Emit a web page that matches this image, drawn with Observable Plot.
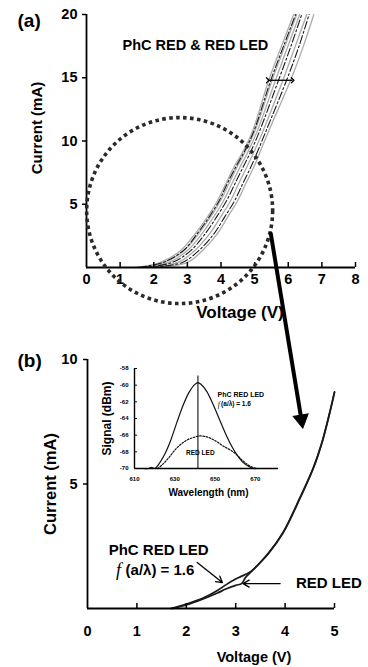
<!DOCTYPE html>
<html>
<head>
<meta charset="utf-8">
<script src="https://cdn.jsdelivr.net/npm/d3@7"></script>
<script src="https://cdn.jsdelivr.net/npm/@observablehq/plot@0.6"></script>
<style>
html,body{margin:0;padding:0;background:#fff;}
#wrap{position:relative;width:368px;height:667px;overflow:hidden;background:#fff;}
#wrap svg{position:absolute;background:transparent;}
</style>
</head>
<body>
<div id="wrap"></div>
<script>
const FONT = '"Liberation Sans", Arial, Helvetica, sans-serif';
const SERIF = '"Liberation Serif", "DejaVu Serif", serif';

// ---------- Panel (a): I-V family ----------
const aXTicks = [0, 1, 2, 3, 4, 5, 6, 7, 8];
const aYTicks = [5, 10, 15, 20];
const aLevels = [0, 0.4, 1.34, 2.7, 4.0, 5.3, 6.6, 7.9, 9.25, 10.8, 14.8, 17.5, 20]; // mA
const aGray1 = [1.45, 2.20, 2.80, 3.24, 3.60, 3.90, 4.14, 4.38, 4.67, 4.94, 5.42, 5.80, 6.16]; // V
const aGray2 = [2.00, 3.00, 3.45, 3.90, 4.20, 4.50, 4.73, 4.97, 5.18, 5.42, 6.07, 6.45, 6.76];
const aGray3 = [1.60, 2.45, 3.00, 3.44, 3.78, 4.08, 4.32, 4.56, 4.82, 5.08, 5.62, 5.99, 6.34];
const aGray4 = [1.80, 2.72, 3.22, 3.67, 3.99, 4.29, 4.52, 4.76, 5.00, 5.25, 5.84, 6.21, 6.55];
const aGray5 = [1.52, 2.32, 2.90, 3.34, 3.69, 3.99, 4.23, 4.47, 4.74, 5.01, 5.52, 5.90, 6.25];
const aBlack1 = [1.70, 2.55, 3.10, 3.54, 3.87, 4.17, 4.41, 4.65, 4.90, 5.15, 5.71, 6.08, 6.40];
const aBlack2 = [1.90, 2.85, 3.34, 3.80, 4.11, 4.41, 4.64, 4.88, 5.10, 5.34, 5.95, 6.32, 6.62];
const aBlack3 = [1.55, 2.28, 2.88, 3.30, 3.65, 3.95, 4.18, 4.43, 4.71, 4.98, 5.48, 5.86, 6.22];
const aCircleCenter = [{v: 2.77, i: 4.5}];
const aSpread = [{v1: 5.39, v2: 6.13, i: 14.8}];
const zoomArrow = [{v1: 5.48, i1: 2.69, v2: 6.43, i2: -12.65}];
const aTitle = "(a)", aXLabel = "Voltage (V)", aYLabel = "Current (mA)", aNote = "PhC RED & RED LED";

const aSeries = [
  {id: "g1", tone: "gray", v: aGray1}, {id: "g2", tone: "gray", v: aGray2},
  {id: "g3", tone: "gray", v: aGray3}, {id: "g4", tone: "gray", v: aGray4},
  {id: "g5", tone: "gray", v: aGray5},
  {id: "b1", tone: "black", v: aBlack1}, {id: "b2", tone: "black", v: aBlack2},
  {id: "b3", tone: "black", v: aBlack3}
];
const aRows = aSeries.flatMap(s => aLevels.map((I, k) => ({id: s.id, tone: s.tone, v: s.v[k], i: I})));

// ---------- Panel (b): zoomed I-V ----------
const bXTicks = [0, 1, 2, 3, 4, 5];
const bYTicks = [5, 10];
const bPhC = [[1.68,0],[2.0,0.18],[2.34,0.42],[2.63,0.72],[2.8,0.95],[3.0,1.18],[3.1,1.28],[3.3,1.48],[3.67,2.25],[3.97,3.1],[4.3,4.45],[4.57,5.65],[4.75,6.7],[4.9,7.85],[5.0,8.7]];
const bRed = [[1.72,0],[2.0,0.14],[2.34,0.38],[2.63,0.62],[2.8,0.78],[3.0,0.93],[3.12,1.0],[3.2,1.25],[3.3,1.45],[3.67,2.22],[3.97,3.07],[4.3,4.42],[4.57,5.62],[4.75,6.68],[4.9,7.82],[5.0,8.68]];
const bArrows = [{v1: 2.22, i1: 1.85, v2: 2.73, i2: 1.04}, {v1: 3.9, i1: 1.0, v2: 3.15, i2: 1.0}];
const bNoteCentered = [{text: "PhC RED LED", v: 1.44, i: 2.33}];
const bNoteStart = [{text: "(a/λ) = 1.6", v: 0.77, i: 1.53}, {text: "RED LED", v: 4.22, i: 1.0}];
const bItalic = [{text: "f", v: 0.63, i: 1.53}];
const bTitle = "(b)", bXLabel = "Voltage (V)", bYLabel = "Current (mA)";

// ---------- Inset: spectra ----------
const insXTicks = [610, 630, 650, 670];
const insYTicks = [-70, -68, -66, -64, -62, -60, -58];
const insPhC = [[614,-70],[617,-70],[618.5,-69.85],[620,-70],[622,-69.5],[625,-68.3],[628,-66.6],[631,-64.5],[634,-62.5],[637,-60.9],[640,-59.9],[641.5,-59.7],[643,-59.9],[646,-60.8],[649,-62.3],[652,-64.0],[655,-65.7],[658,-67.2],[661,-68.4],[664,-69.3],[667,-69.8],[669,-70],[671,-70]];
const insRed = [[621.5,-70],[624,-69.5],[627,-68.7],[630,-67.8],[633,-67.1],[636,-66.6],[639,-66.3],[642,-66.1],[645,-66.15],[648,-66.4],[651,-66.8],[654,-67.3],[657,-67.7],[660,-68.2],[663,-68.9],[666,-69.5],[669,-69.9],[671.5,-70]];
const insPeak = [{w: 641.5, s1: -70, s2: -58.9}];
const insNoteStart = [{text: "PhC RED LED", w: 651.2, s: -61.1, size: 7}, {text: "(a/λ) = 1.6", w: 653.0, s: -62.3, size: 6.5}];
const insNoteCentered = [{text: "RED LED", w: 642.7, s: -68.1, size: 6.5}];
const insItalic = [{text: "f", w: 651.9, s: -62.3}];
const insXLabel = "Wavelength (nm)", insYLabel = "Signal (dBm)";

const wrap = document.getElementById("wrap");
function place(svg, left, top) {
  svg.style.position = "absolute";
  svg.style.left = left + "px";
  svg.style.top = top + "px";
  wrap.appendChild(svg);
}
const baseStyle = {background: "transparent", fontFamily: FONT, fontWeight: "bold", color: "#000", overflow: "visible"};

// Panel (a)
const svgA = Plot.plot({
  width: 368, height: 440,
  marginLeft: 86, marginRight: 13, marginTop: 14, marginBottom: 173,
  style: baseStyle,
  x: {domain: [0, 8], label: null},
  y: {domain: [0, 20], label: null},
  marks: [
    Plot.line(aRows.filter(d => d.tone === "gray"), {x: "v", y: "i", z: "id", stroke: "#ababab", strokeWidth: 1.3, curve: "catmull-rom"}),
    Plot.line(aRows.filter(d => d.tone === "black"), {x: "v", y: "i", z: "id", stroke: "#1a1a1a", strokeWidth: 1.1, strokeDasharray: "8,2.5,2,2.5", curve: "catmull-rom"}),
    Plot.ruleY([0], {strokeWidth: 1.8}),
    Plot.ruleX([0], {strokeWidth: 1.8}),
    Plot.ruleX(aXTicks.slice(1), {x: d => d, y1: 0, y2: 0, insetTop: -5, strokeWidth: 1.5}),
    Plot.ruleY(aYTicks, {y: d => d, x1: 0, x2: 0, insetLeft: -4, strokeWidth: 1.5}),
    Plot.axisX({ticks: aXTicks, tickSize: 0, tickPadding: 6, fontSize: 14.5, tickFormat: d => String(d), label: null}),
    Plot.axisY({ticks: aYTicks, tickSize: 0, tickPadding: 9, fontSize: 14.5, tickFormat: d => String(d), label: null}),
    Plot.dot(aCircleCenter, {x: "v", y: "i", r: 93, stroke: "#2a2a2a", strokeWidth: 3.6, strokeDasharray: "3.6,3.4", fill: "none"}),
    Plot.link(aSpread, {x1: "v1", x2: "v2", y1: "i", y2: "i", stroke: "#000", strokeWidth: 1.3, markerStart: "arrow", markerEnd: "arrow"}),
    Plot.arrow(zoomArrow, {x1: "v1", y1: "i1", x2: "v2", y2: "i2", stroke: "#000", strokeWidth: 4, headLength: 0, insetEnd: 9}),
    Plot.dot(zoomArrow, {x: "v2", y: "i2", symbol: "triangle", r: 5.6, fill: "#000", stroke: "#000", strokeWidth: 1, rotate: 170.6, dx: -1.3, dy: -8}),
    Plot.text([aTitle], {text: d => d, frameAnchor: "top-left", dx: -69, dy: 6, textAnchor: "start", lineAnchor: "middle", fontSize: 19, fontWeight: "bold"}),
    Plot.text([aYLabel], {text: d => d, frameAnchor: "left", dx: -49, dy: -13, rotate: -90, textAnchor: "middle", lineAnchor: "middle", fontSize: 15, fontWeight: "bold"}),
    Plot.text([aXLabel], {text: d => d, frameAnchor: "bottom", dx: 19, dy: 45, textAnchor: "middle", lineAnchor: "middle", fontSize: 17, fontWeight: "bold"}),
    Plot.text([aNote], {text: d => d, frameAnchor: "top-left", dx: 36, dy: 31, textAnchor: "start", lineAnchor: "middle", fontSize: 14.5, fontWeight: "bold"})
  ]
});

// Panel (b)
const svgB = Plot.plot({
  width: 368, height: 337,
  marginLeft: 87, marginRight: 34, marginTop: 29, marginBottom: 59,
  style: baseStyle,
  x: {domain: [0, 5], label: null},
  y: {domain: [0, 10], label: null},
  marks: [
    Plot.line(bPhC, {x: d => d[0], y: d => d[1], stroke: "#1a1a1a", strokeWidth: 1.7, curve: "catmull-rom"}),
    Plot.line(bRed, {x: d => d[0], y: d => d[1], stroke: "#1a1a1a", strokeWidth: 1.7, curve: "catmull-rom"}),
    Plot.ruleY([0], {strokeWidth: 1.8}),
    Plot.ruleX([0], {strokeWidth: 1.8}),
    Plot.ruleX(bXTicks.slice(1), {x: d => d, y1: 0, y2: 0, insetTop: -5, strokeWidth: 1.5}),
    Plot.ruleY(bYTicks, {y: d => d, x1: 0, x2: 0, insetLeft: -4, strokeWidth: 1.5}),
    Plot.axisX({ticks: bXTicks, tickSize: 0, tickPadding: 17, fontSize: 14.5, tickFormat: d => String(d), label: null}),
    Plot.axisY({ticks: bYTicks, tickSize: 0, tickPadding: 10, fontSize: 14.5, tickFormat: d => String(d), label: null}),
    Plot.arrow(bArrows, {x1: "v1", y1: "i1", x2: "v2", y2: "i2", stroke: "#000", strokeWidth: 1.3, headLength: 8}),
    Plot.text(bNoteCentered, {x: "v", y: "i", text: "text", textAnchor: "middle", fontSize: 15, fontWeight: "bold"}),
    Plot.text(bNoteStart, {x: "v", y: "i", text: "text", textAnchor: "start", fontSize: 15, fontWeight: "bold"}),
    Plot.text(bItalic, {x: "v", y: "i", text: "text", textAnchor: "middle", fontSize: 18, fontStyle: "italic", fontFamily: SERIF, fontWeight: "normal"}),
    Plot.text([bTitle], {text: d => d, frameAnchor: "top-left", dx: -70, dy: 1, textAnchor: "start", lineAnchor: "middle", fontSize: 19, fontWeight: "bold"}),
    Plot.text([bYLabel], {text: d => d, frameAnchor: "left", dx: -37, dy: 0, rotate: -90, textAnchor: "middle", lineAnchor: "middle", fontSize: 16.5, fontWeight: "bold"}),
    Plot.text([bXLabel], {text: d => d, frameAnchor: "bottom", dx: 43, dy: 49, textAnchor: "middle", lineAnchor: "middle", fontSize: 14.5, fontWeight: "bold"})
  ]
});

// Inset
const svgI = Plot.plot({
  width: 190, height: 145,
  marginLeft: 34, marginRight: 12, marginTop: 8, marginBottom: 37,
  style: baseStyle,
  x: {domain: [610, 681.5], label: null},
  y: {domain: [-70, -58], label: null},
  marks: [
    Plot.line(insPhC, {x: d => d[0], y: d => d[1], stroke: "#111", strokeWidth: 1.2, curve: "catmull-rom"}),
    Plot.line(insRed, {x: d => d[0], y: d => d[1], stroke: "#111", strokeWidth: 1.2, strokeDasharray: "1.6,1.6", curve: "catmull-rom"}),
    Plot.ruleX(insPeak, {x: "w", y1: "s1", y2: "s2", stroke: "#111", strokeWidth: 1.1}),
    Plot.ruleY([-70], {strokeWidth: 1.4}),
    Plot.ruleX([610], {strokeWidth: 1.4}),
    Plot.ruleY(insYTicks.slice(1), {y: d => d, x1: 610, x2: 610, insetRight: -3, strokeWidth: 1}),
    Plot.axisX({ticks: insXTicks, tickSize: 0, tickPadding: 8, fontSize: 6, tickFormat: d => String(d), label: null}),
    Plot.axisY({ticks: insYTicks, tickSize: 0, tickPadding: 6, fontSize: 6, tickFormat: d => String(d), label: null}),
    Plot.text(insNoteStart, {x: "w", y: "s", text: "text", textAnchor: "start", fontSize: d => d.size, fontWeight: "bold"}),
    Plot.text(insNoteCentered, {x: "w", y: "s", text: "text", textAnchor: "middle", fontSize: d => d.size, fontWeight: "bold"}),
    Plot.text(insItalic, {x: "w", y: "s", text: "text", textAnchor: "middle", fontSize: 7.5, fontStyle: "italic", fontFamily: SERIF, fontWeight: "normal"}),
    Plot.text([insYLabel], {text: d => d, frameAnchor: "left", dx: -27, dy: 0, rotate: -90, textAnchor: "middle", lineAnchor: "middle", fontSize: 12, fontWeight: "bold"}),
    Plot.text([insXLabel], {text: d => d, frameAnchor: "bottom", dx: 2, dy: 24, textAnchor: "middle", lineAnchor: "middle", fontSize: 10, fontWeight: "bold"})
  ]
});

place(svgB, 0, 330);
place(svgI, 100, 360);
place(svgA, 0, 0);
</script>
</body>
</html>
